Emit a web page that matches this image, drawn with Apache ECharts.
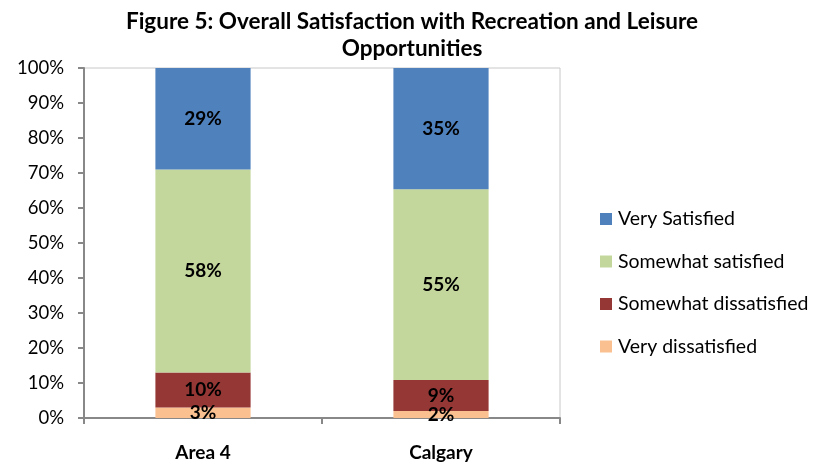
<!DOCTYPE html>
<html>
<head>
<meta charset="utf-8">
<script src="https://cdn.jsdelivr.net/npm/echarts@6/dist/echarts.min.js"></script>
<style>html,body{margin:0;padding:0;background:#fff}#c{width:823px;height:464px}</style>
</head>
<body>
<div id="c"></div>
<script>
const categories = ['Area 4', 'Calgary'];
const seriesNames = ['Very dissatisfied', 'Somewhat dissatisfied', 'Somewhat satisfied', 'Very Satisfied'];
const veryDissatisfied = [3, 2];
const somewhatDissatisfied = [10, 9];
const somewhatSatisfied = [58, 55];
const verySatisfied = [29, 35];
const yTickLabels = ['0%','10%','20%','30%','40%','50%','60%','70%','80%','90%','100%'];
const colors = ['#FAC090', '#953735', '#C3D69B', '#4F81BD'];

const raw = [veryDissatisfied, somewhatDissatisfied, somewhatSatisfied, verySatisfied];
const totals = categories.map((c, i) => raw.reduce((s, arr) => s + arr[i], 0));
const FONT = 'Lato, "Open Sans", sans-serif';

const series = raw.map((arr, k) => ({
  name: seriesNames[k],
  type: 'bar',
  stack: 'total',
  barWidth: '40%',
  itemStyle: { color: colors[k] },
  data: arr.map((v, i) => ({ value: v / totals[i] * 100, raw: v })),
  label: {
    show: true,
    position: 'inside',
    fontFamily: FONT,
    fontWeight: 'bold',
    fontSize: 19,
    color: '#000',
    formatter: p => p.data.raw + '%'
  }
}));

const chart = echarts.init(document.getElementById('c'), null, { renderer: 'canvas' });
chart.setOption({
  animation: false,
  title: {
    text: 'Figure 5: Overall Satisfaction with Recreation and Leisure\nOpportunities',
    left: 407,
    textAlign: 'center',
    top: 3,
    textStyle: { fontFamily: FONT, fontWeight: 'bold', fontSize: 22.5, color: '#000', lineHeight: 27 }
  },
  legend: {
    orient: 'vertical',
    left: 600,
    top: 208,
    padding: 0,
    itemGap: 20.5,
    itemWidth: 12,
    itemHeight: 12,
    icon: 'rect',
    data: seriesNames.slice().reverse(),
    textStyle: { fontFamily: FONT, fontSize: 19.5, color: '#000', padding: [0, 0, 0, 1], lineHeight: 22 }
  },
  grid: {
    left: 84, right: 263, top: 68, bottom: 46,
    show: true, borderColor: '#c8c8c8', borderWidth: 1
  },
  xAxis: {
    type: 'category',
    data: categories,
    axisLine: { lineStyle: { color: '#888', width: 2 } },
    axisTick: { show: true, length: 6, lineStyle: { color: '#888', width: 2 } },
    axisLabel: { fontFamily: FONT, fontWeight: 'bold', fontSize: 19, color: '#000', margin: 25 }
  },
  yAxis: {
    type: 'value',
    min: 0, max: 100, interval: 10,
    axisLine: { show: true, lineStyle: { color: '#888', width: 2 } },
    axisTick: { show: true, length: 6, lineStyle: { color: '#888', width: 2 } },
    splitLine: { show: false },
    axisLabel: { fontFamily: FONT, fontSize: 18.5, color: '#000', margin: 20,
      formatter: v => yTickLabels[Math.round(v / 10)] }
  },
  series: series
});
</script>
</body>
</html>
